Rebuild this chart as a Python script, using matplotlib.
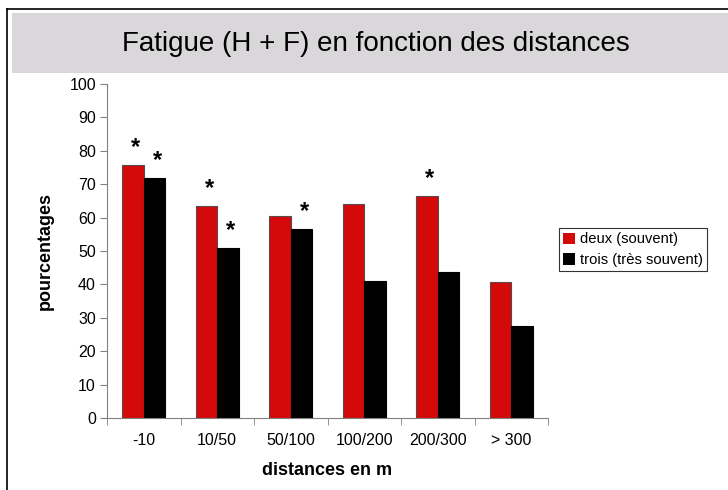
import matplotlib
matplotlib.use("Agg")
import matplotlib.pyplot as plt
from matplotlib import font_manager
from matplotlib.patches import Rectangle
from matplotlib.lines import Line2D
import numpy as np

categories = ["-10", "10/50", "50/100", "100/200", "200/300", "> 300"]
deux = [75.8, 63.6, 60.6, 64.0, 66.6, 40.7]
trois = [72.0, 51.0, 56.6, 41.0, 43.7, 27.4]
star_deux = [True, True, False, False, True, False]
star_trois = [True, True, True, False, False, False]

plt.rcParams['font.family'] = ['Liberation Sans', 'DejaVu Sans']

names = {f.name for f in font_manager.fontManager.ttflist}
title_family = 'Liberation Sans Narrow' if 'Liberation Sans Narrow' in names else 'Liberation Sans'
title_size = 25 if title_family == 'Liberation Sans Narrow' else 20

W, H = 728, 490
fig = plt.figure(figsize=(W / 100, H / 100), dpi=100)

# frame lines and grey title band
fig.add_artist(Rectangle((12 / W, 1 - 73 / H), 1, 60 / H, transform=fig.transFigure,
                         facecolor='#d9d7d9', edgecolor='none'))
fig.add_artist(Line2D([7 / W, 1], [1 - 9 / H, 1 - 9 / H], transform=fig.transFigure,
                      color='black', lw=1.2))
fig.add_artist(Line2D([7 / W, 7 / W], [0, 1 - 9 / H], transform=fig.transFigure,
                      color='black', lw=1.2))
fig.text(376 / W, 1 - 51 / H, "Fatigue (H + F) en fonction des distances",
         ha='center', va='baseline', fontsize=title_size, family=title_family)

ax = fig.add_axes([107 / W, 72 / H, 441 / W, 334 / H])

x = np.arange(len(categories))
w = 0.29
ax.bar(x - w / 2, deux, w, color='#d40a0a', edgecolor='#5a4a4a', linewidth=0.8,
       label='deux (souvent)')
ax.bar(x + w / 2, trois, w, color='black', edgecolor='black', linewidth=0.8,
       label='trois (très souvent)')

for i in range(len(categories)):
    if star_deux[i]:
        ax.annotate('*', (x[i] - w / 2, deux[i]), xytext=(2, 4), textcoords='offset points',
                    ha='center', va='bottom', fontsize=17, fontweight='bold')
    if star_trois[i]:
        ax.annotate('*', (x[i] + w / 2, trois[i]), xytext=(2, 4), textcoords='offset points',
                    ha='center', va='bottom', fontsize=17, fontweight='bold')

ax.set_xlim(-0.5, len(categories) - 0.5)
ax.set_ylim(0, 100)
ax.set_yticks(range(0, 101, 10))
ax.set_xticks(x)
ax.set_xticklabels(categories)
ax.set_xticks(np.arange(-0.5, len(categories), 1), minor=True)
ax.tick_params(axis='x', which='major', length=0, pad=11, labelsize=11.5)
ax.tick_params(axis='x', which='minor', length=5, color='#808080', direction='out')
ax.tick_params(axis='y', length=5, color='#808080', direction='out', pad=3, labelsize=11.5)

for s in ['top', 'right']:
    ax.spines[s].set_visible(False)
for s in ['left', 'bottom']:
    ax.spines[s].set_color('#808080')

ax.set_ylabel('pourcentages', fontsize=13, fontweight='bold', labelpad=11)
ax.set_xlabel('distances en m', fontsize=13, fontweight='bold', labelpad=10)

leg = ax.legend(loc='upper left', bbox_to_anchor=(1.025, 0.569), borderaxespad=0,
                fancybox=False, edgecolor='black', fontsize=10.6, handlelength=0.8,
                handleheight=0.8, handletextpad=0.3, labelspacing=0.45, borderpad=0.3)
leg.get_frame().set_linewidth(0.8)
for h in leg.legend_handles:
    h.set_edgecolor('none')

fig.savefig('out.png', dpi=100)
